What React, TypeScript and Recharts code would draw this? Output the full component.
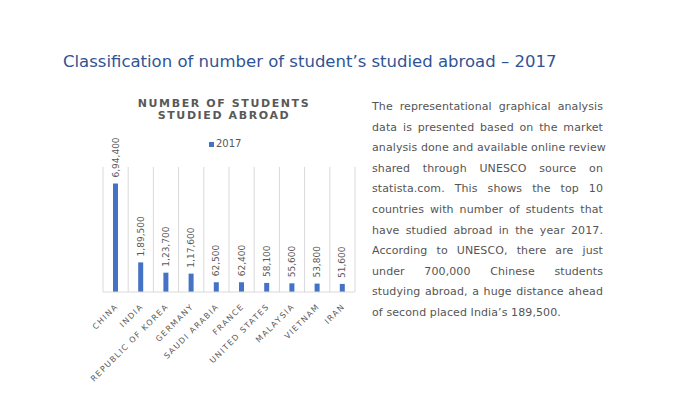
import React from "react";
import { BarChart, Bar, XAxis, YAxis, CartesianGrid, LabelList } from "recharts";

const countries = [
  "CHINA",
  "INDIA",
  "REPUBLIC OF KOREA",
  "GERMANY",
  "SAUDI ARABIA",
  "FRANCE",
  "UNITED STATES",
  "MALAYSIA",
  "VIETNAM",
  "IRAN",
];
const students2017 = [694400, 189500, 123700, 117600, 62500, 62400, 58100, 55600, 53800, 51600];
const seriesName = "2017";

const pageTitle = "Classification of number of student\u2019s studied abroad \u2013 2017";
const chartTitleLines = ["NUMBER OF STUDENTS", "STUDIED ABROAD"];
const paragraphLines = [
  "The representational graphical analysis",
  "data is presented based on the market",
  "analysis done and available online review",
  "shared through UNESCO source on",
  "statista.com. This shows the top 10",
  "countries with number of students that",
  "have studied abroad in the year 2017.",
  "According to UNESCO, there are just",
  "under 700,000 Chinese students",
  "studying abroad, a huge distance ahead",
  "of second placed India\u2019s 189,500.",
];

const data = countries.map((c, i) => ({ country: c, value: students2017[i] }));

const FONT = "'DejaVu Sans', Verdana, sans-serif";
const GRAY = "#595959";

function indianFormat(n: number): string {
  const s = String(Math.round(n));
  if (s.length <= 3) return s;
  const last3 = s.slice(-3);
  let rest = s.slice(0, -3);
  const parts: string[] = [];
  while (rest.length > 2) {
    parts.unshift(rest.slice(-2));
    rest = rest.slice(0, -2);
  }
  if (rest.length) parts.unshift(rest);
  return parts.join(",") + "," + last3;
}

const XTick = (props: any) => {
  const { x, y, payload } = props;
  return (
    <g transform={`translate(${x + 3},${y + 7})`}>
      <text
        x={0}
        y={0}
        transform="rotate(-45)"
        textAnchor="end"
        fontSize={8}
        letterSpacing={1.4}
        fill={GRAY}
        fontFamily={FONT}
      >
        {payload.value}
      </text>
    </g>
  );
};

const BarLabel = (props: any) => {
  const { x, y, width, value } = props;
  const cx = Number(x) + Number(width) / 2;
  const ty = Number(y) - 6;
  return (
    <text
      x={cx}
      y={ty}
      transform={`rotate(-90, ${cx}, ${ty})`}
      textAnchor="start"
      dominantBaseline="central"
      fontSize={9}
      fill={GRAY}
      fontFamily={FONT}
    >
      {indianFormat(Number(value))}
    </text>
  );
};

export default function App() {
  return (
    <div
      style={{
        position: "absolute",
        left: 0,
        top: 0,
        width: 690,
        height: 397,
        background: "#ffffff",
        overflow: "hidden",
        fontFamily: FONT,
      }}
    >
      <div
        style={{
          position: "absolute",
          left: 63,
          top: 51,
          fontSize: 16.5,
          color: "#2F5496",
          whiteSpace: "nowrap",
          lineHeight: "22px",
        }}
      >
        {pageTitle}
      </div>

      <div style={{ position: "absolute", left: 0, top: 0 }}>
        <BarChart
          width={370}
          height={397}
          data={data}
          margin={{ top: 167, right: 15, bottom: 5, left: 103 }}
        >
          <CartesianGrid
            horizontal={false}
            vertical={true}
            stroke="#d9d9d9"
            verticalCoordinatesGenerator={(args: any) => {
              const off = args.offset;
              const n = countries.length;
              const arr: number[] = [];
              for (let i = 0; i <= n; i++) arr.push(off.left + (i * off.width) / n);
              return arr;
            }}
          />
          <XAxis
            dataKey="country"
            interval={0}
            height={100}
            tickLine={false}
            axisLine={{ stroke: "#d9d9d9" }}
            tick={<XTick />}
          />
          <YAxis hide domain={[0, 800000]} />
          <Bar dataKey="value" name={seriesName} fill="#4472C4" barSize={5} isAnimationActive={false}>
            <LabelList dataKey="value" content={<BarLabel />} />
          </Bar>
        </BarChart>
      </div>

      <div
        style={{
          position: "absolute",
          left: 124,
          width: 200,
          top: 98,
          textAlign: "center",
          fontSize: 11,
          fontWeight: "bold",
          letterSpacing: 1.6,
          color: GRAY,
          lineHeight: "12.3px",
        }}
      >
        {chartTitleLines.map((l) => (
          <div key={l}>{l}</div>
        ))}
      </div>

      <div
        style={{
          position: "absolute",
          left: 209,
          top: 137,
          fontSize: 10,
          color: GRAY,
          display: "flex",
          alignItems: "center",
          lineHeight: "14px",
        }}
      >
        <span style={{ display: "inline-block", width: 5, height: 5, background: "#4472C4", marginRight: 2 }} />
        <span>{seriesName}</span>
      </div>

      <div
        style={{
          position: "absolute",
          left: 372,
          top: 97,
          width: 231,
          fontSize: 11,
          color: "#555555",
          lineHeight: "20.6px",
        }}
      >
        {paragraphLines.map((l, i) => (
          <div
            key={i}
            style={{
              textAlign: i < paragraphLines.length - 1 ? "justify" : "left",
              textAlignLast: i < paragraphLines.length - 1 ? "justify" : "left",
              whiteSpace: "nowrap",
              letterSpacing: 0.1,
            }}
          >
            {l}
          </div>
        ))}
      </div>
    </div>
  );
}
